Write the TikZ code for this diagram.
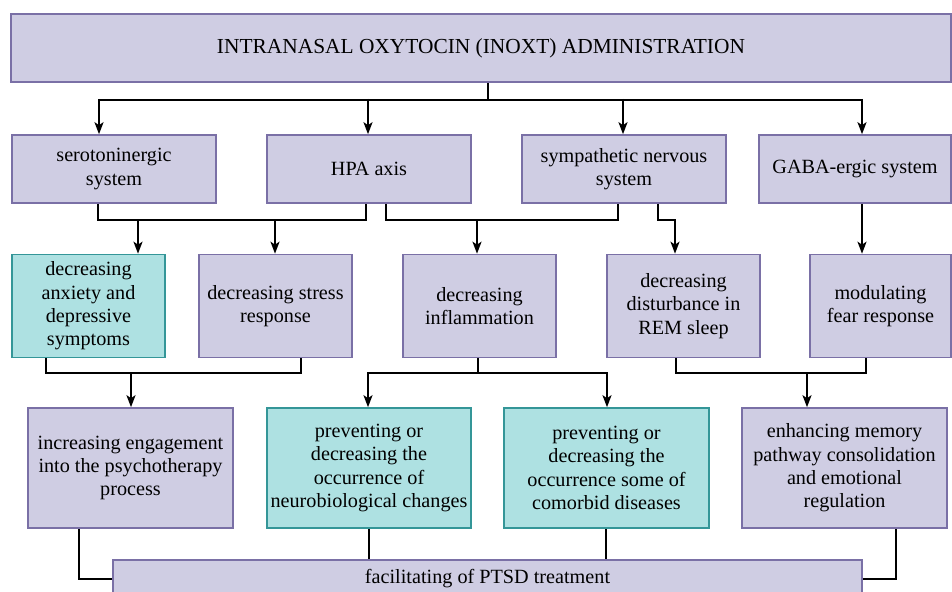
\documentclass[tikz,border=0pt]{standalone}
\usepackage{fontspec}
\setmainfont{Liberation Serif}
\usetikzlibrary{arrows.meta}
\definecolor{lavfill}{RGB}{207,205,227}
\definecolor{lavdraw}{RGB}{122,112,166}
\definecolor{tealfill}{RGB}{174,225,226}
\definecolor{tealdraw}{RGB}{52,150,152}
\tikzset{
  box/.style={draw=lavdraw, fill=lavfill, line width=1.6pt, inner sep=0pt, align=center,
    font=\fontsize{20.2}{23.3}\selectfont},
  tbox/.style={box, draw=tealdraw, fill=tealfill},
  conn/.style={draw=black, line width=2pt},
  arr/.style={conn, -{Stealth[length=12pt,width=9pt,inset=3pt]}}
}
\begin{document}
\begin{tikzpicture}[x=1pt,y=-1pt]
\useasboundingbox[fill=white] (0,0) rectangle (952,591);
% top
\node[box, minimum width=940pt, minimum height=68pt, font=\fontsize{21.4}{24}\selectfont] (top) at (481,48) {INTRANASAL OXYTOCIN (INOXT) ADMINISTRATION};
% row 2
\node[box, minimum width=204pt, minimum height=68pt] (ser) at (114,169) {serotoninergic\\system};
\node[box, minimum width=204pt, minimum height=68pt] (hpa) at (369,169) {HPA axis};
\node[box, minimum width=204pt, minimum height=68pt] (sns) at (624,169) {sympathetic nervous\\system};
\node[box, minimum width=192pt, minimum height=68pt] (gaba) at (855,169) {GABA-ergic system};
% row 3
\node[tbox, minimum width=153pt, minimum height=103pt] (anx) at (88.5,306) {decreasing\\anxiety and\\depressive\\symptoms};
\node[box, minimum width=153pt, minimum height=103pt] (str) at (275.5,306) {decreasing stress\\response};
\node[box, minimum width=153pt, minimum height=103pt] (inf) at (479.5,306) {decreasing\\inflammation};
\node[box, minimum width=153pt, minimum height=103pt] (rem) at (683.5,306) {decreasing\\disturbance in\\REM sleep};
\node[box, minimum width=141pt, minimum height=103pt] (fear) at (880.5,306) {modulating\\fear response};
% row 4
\node[box, minimum width=205pt, minimum height=120pt] (eng) at (130.5,468) {increasing engagement\\into the psychotherapy\\process};
\node[tbox, minimum width=204pt, minimum height=120pt] (neu) at (369,468) {preventing or\\decreasing the\\occurrence of\\neurobiological changes};
\node[tbox, minimum width=205pt, minimum height=120pt] (com) at (606.5,468) {preventing or\\decreasing the\\occurrence some of\\comorbid diseases};
\node[box, minimum width=205pt, minimum height=120pt] (mem) at (844.5,468) {enhancing memory\\pathway consolidation\\and emotional\\regulation};
% bottom
\node[box, minimum width=749pt, minimum height=38pt] (bot) at (487.5,579) {facilitating of PTSD treatment};

% top -> row 2
\draw[conn] (top.south -| 488,0) -- (488,100);
\draw[conn] (99,100) -- (862,100);
\draw[arr] (99,99) -- (ser.north -| 99,0);
\draw[arr] (368,99) -- (hpa.north -| 368,0);
\draw[arr] (623,99) -- (sns.north -| 623,0);
\draw[arr] (862,99) -- (gaba.north -| 862,0);

% row 2 -> row 3
\draw[conn] (ser.south -| 98,0) -- (98,220) -| (hpa.south -| 366,0);
\draw[arr] (138,219) -- (anx.north -| 138,0);
\draw[arr] (275,219) -- (str.north -| 275,0);
\draw[conn] (hpa.south -| 386,0) -- (386,220) -| (sns.south -| 618,0);
\draw[arr] (477,219) -- (inf.north -| 477,0);
\draw[arr] (sns.south -| 658,0) -- (658,220) -| (rem.north -| 675,0);
\draw[arr] (gaba.south -| 862,0) -- (fear.north -| 862,0);

% row 3 -> row 4
\draw[conn] (anx.south -| 46,0) -- (46,373) -| (str.south -| 301,0);
\draw[arr] (131,372) -- (eng.north -| 131,0);
\draw[conn] (inf.south -| 478,0) -- (478,373);
\draw[conn] (368,373) -- (607,373);
\draw[arr] (368,372) -- (neu.north -| 368,0);
\draw[arr] (607,372) -- (com.north -| 607,0);
\draw[conn] (rem.south -| 676,0) -- (676,373) -| (fear.south -| 866,0);
\draw[arr] (807,372) -- (mem.north -| 807,0);

% row 4 -> bottom
\draw[conn] (eng.south -| 79,0) |- (bot.west);
\draw[conn] (neu.south -| 369,0) -- (bot.north -| 369,0);
\draw[conn] (com.south -| 606,0) -- (bot.north -| 606,0);
\draw[conn] (mem.south -| 896,0) |- (bot.east);
\end{tikzpicture}
\end{document}
